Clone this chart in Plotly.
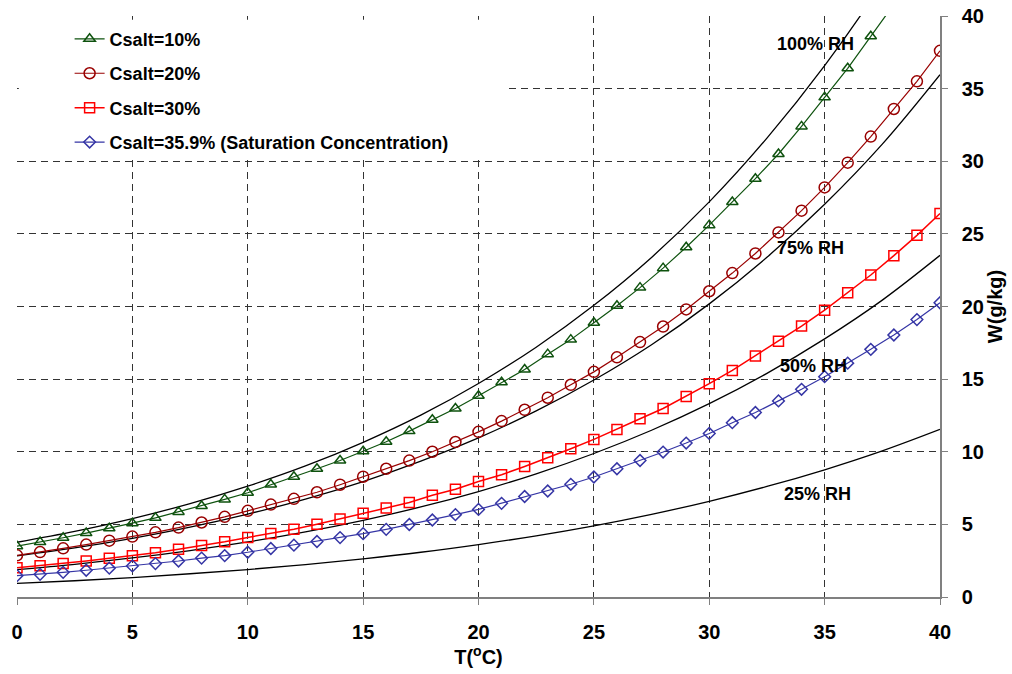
import plotly.graph_objects as go

# Temperature (°C) for the solution curves, one point per degree
temp = list(range(0, 41))

# Humidity ratio W (g/kg) in equilibrium with the salt solution
w_c10 = [3.50, 3.78, 4.08, 4.40, 4.73, 5.08, 5.45, 5.86, 6.27, 6.72,
         7.18, 7.75, 8.28, 8.83, 9.40, 10.03, 10.69, 11.42, 12.20, 12.98,
         13.86, 14.78, 15.66, 16.72, 17.72, 18.88, 20.05, 21.30, 22.64, 24.08,
         25.60, 27.20, 28.80, 30.50, 32.40, 34.40, 36.40, 38.60, 40.80]
w_c20 = [2.87, 3.09, 3.35, 3.61, 3.88, 4.16, 4.45, 4.78, 5.13, 5.52,
         5.93, 6.36, 6.76, 7.21, 7.73, 8.28, 8.83, 9.39, 10.00, 10.67,
         11.37, 12.11, 12.89, 13.72, 14.61, 15.50, 16.50, 17.55, 18.62, 19.80,
         21.05, 22.30, 23.65, 25.10, 26.60, 28.20, 29.90, 31.70, 33.60, 35.50,
         37.60]
w_c30 = [2.02, 2.16, 2.31, 2.48, 2.66, 2.84, 3.04, 3.29, 3.54, 3.80,
         4.10, 4.37, 4.66, 5.01, 5.37, 5.76, 6.13, 6.50, 7.00, 7.42,
         7.95, 8.42, 8.99, 9.59, 10.21, 10.85, 11.54, 12.27, 12.98, 13.81,
         14.69, 15.60, 16.60, 17.60, 18.65, 19.75, 20.95, 22.17, 23.50, 24.90,
         26.40]
w_c359 = [1.47, 1.56, 1.70, 1.84, 1.99, 2.14, 2.30, 2.48, 2.68, 2.85,
          3.08, 3.34, 3.57, 3.82, 4.09, 4.36, 4.66, 4.99, 5.30, 5.67,
          6.03, 6.45, 6.92, 7.30, 7.76, 8.26, 8.83, 9.40, 9.98, 10.60,
          11.26, 12.00, 12.70, 13.50, 14.30, 15.17, 16.10, 17.05, 18.04, 19.10,
          20.26]

# Constant relative-humidity lines
temp_rh = [0, 2.5, 5, 7.5, 10, 12.5, 15, 17.5, 20, 22.5, 25, 27.5, 30, 32.5, 35, 37.5, 40]
w_rh100 = [3.77, 4.52, 5.40, 6.43, 7.63, 9.02, 10.65, 12.52, 14.70, 17.20,
           20.08, 23.38, 27.20, 31.59, 36.58, 42.28, 48.89]
w_rh75 = [2.83, 3.38, 4.04, 4.81, 5.71, 6.74, 7.95, 9.35, 10.96, 12.81,
          14.94, 17.37, 20.18, 23.39, 27.04, 31.18, 35.96]
w_rh50 = [1.88, 2.25, 2.69, 3.20, 3.79, 4.48, 5.28, 6.20, 7.26, 8.48,
          9.88, 11.48, 13.31, 15.40, 17.77, 20.44, 23.52]
w_rh25 = [0.94, 1.12, 1.34, 1.60, 1.89, 2.23, 2.63, 3.08, 3.61, 4.21,
          4.90, 5.69, 6.59, 7.61, 8.76, 10.06, 11.54]

rh_labels = ["100% RH", "75% RH", "50% RH", "25% RH"]
rh_label_t = [34.6, 34.4, 34.5, 34.7]
rh_label_w = [38.1, 24.0, 15.9, 7.1]

FONT = "Arial, Liberation Sans, sans-serif"

fig = go.Figure()

# RH reference curves (black, no legend entry)
for w in [w_rh100, w_rh75, w_rh50, w_rh25]:
    fig.add_trace(go.Scatter(
        x=temp_rh, y=w, mode="lines", showlegend=False,
        line=dict(color="black", width=1.3, shape="spline"),
        hoverinfo="skip"))

series = [
    ("Csalt=10%", temp[:len(w_c10)], w_c10, "#0E520E", "triangle-up-open", 10, 1.2),
    ("Csalt=20%", temp, w_c20, "#990000", "circle-open", 11, 1.2),
    ("Csalt=30%", temp, w_c30, "#FF0000", "square-open", 10, 1.5),
    ("Csalt=35.9% (Saturation Concentration)", temp, w_c359, "#3535A5", "diamond-open", 9, 1.2),
]
for i, (name, x, y, color, symbol, size, lw) in enumerate(series):
    fig.add_trace(go.Scatter(
        x=x, y=y, mode="lines+markers", name=name, legendgroup=f"g{i}",
        line=dict(color=color, width=lw),
        marker=dict(symbol=symbol, size=size, color=color,
                    line=dict(color=color, width=1.5))))

for label, t, w in zip(rh_labels, rh_label_t, rh_label_w):
    fig.add_annotation(x=t, y=w, text=label, showarrow=False,
                       font=dict(family=FONT, size=18, color="black", weight="bold"))

# blank panel behind the legend
fig.add_shape(type="rect", xref="x", yref="y", x0=0.08, x1=21.27, y0=30.15, y1=39.75,
              fillcolor="white", line=dict(width=0), layer="between")

grid = dict(showgrid=True, gridcolor="#333333", gridwidth=1, griddash="7px,5px")
fig.update_xaxes(range=[0, 40], tickmode="linear", tick0=0, dtick=5,
                 showline=True, linecolor="#808080", linewidth=1.5,
                 ticks="outside", ticklen=6, tickcolor="#808080",
                 zeroline=False, ticklabelstandoff=10, automargin=False,
                 tickfont=dict(family=FONT, size=20, color="black", weight="bold"),
                 title=dict(text="T(<sup>o</sup>C)", standoff=8,
                            font=dict(family=FONT, size=20, color="black", weight="bold")),
                 **grid)
fig.update_yaxes(range=[0, 40], tickmode="linear", tick0=0, dtick=5, side="right",
                 showline=True, linecolor="#808080", linewidth=1.5,
                 ticks="outside", ticklen=6, tickcolor="#808080",
                 zeroline=False, ticklabelstandoff=10, automargin=False,
                 tickfont=dict(family=FONT, size=20, color="black", weight="bold"),
                 title=dict(text="W(g/kg)", standoff=4,
                            font=dict(family=FONT, size=20, color="black", weight="bold")),
                 **grid)

fig.update_layout(
    width=1012, height=674,
    margin=dict(l=17, r=72, t=16, b=77, autoexpand=False),
    paper_bgcolor="white", plot_bgcolor="white",
    font=dict(family=FONT, color="black"),
    legend=dict(x=0.057, y=0.992, xanchor="left", yanchor="top",
                bgcolor="rgba(0,0,0,0)", tracegroupgap=8,
                font=dict(family=FONT, size=18, color="black", weight="bold")),
)

fig.write_html("out.html")
